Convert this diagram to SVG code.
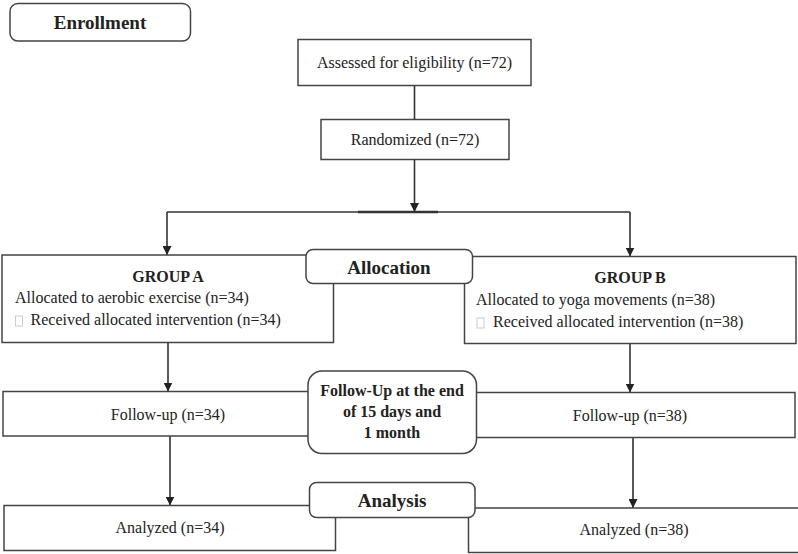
<svg xmlns="http://www.w3.org/2000/svg" width="798" height="554" viewBox="0 0 798 554">
<defs>
<style>
.box{fill:#fff;stroke:#444;stroke-width:1.5}
.hdr{fill:#fff;stroke:#444;stroke-width:1.5}
.t{font-family:"Liberation Serif","Times New Roman",serif;font-size:16px;fill:#222}
.c{text-anchor:middle}
.b{font-weight:bold}
.h{font-family:"Liberation Serif","Times New Roman",serif;font-size:19px;font-weight:bold;fill:#222;text-anchor:middle}
.ln{fill:none;stroke:#333;stroke-width:1.6}
.tofu{fill:#fff;stroke:#ccc;stroke-width:1}
</style>
<marker id="arr" viewBox="0 0 10 10" refX="10" refY="5" markerWidth="9" markerHeight="9" markerUnits="userSpaceOnUse" orient="auto">
<path d="M0,0 L10,5 L0,10 z" fill="#222"/>
</marker>
</defs>
<rect width="798" height="554" fill="#fff"/>

<g id="enrollment">
<rect class="hdr" x="10" y="3.5" width="180.5" height="37.5" rx="8"/>
<text class="h" x="100" y="29">Enrollment</text>
</g>

<g id="assessed">
<rect class="box" x="298" y="39.5" width="233" height="46"/>
<text class="t c" x="414.5" y="67.5">Assessed for eligibility (n=72)</text>
</g>

<g id="randomized">
<rect class="box" x="321" y="119.5" width="188" height="40"/>
<text class="t c" x="415" y="145">Randomized (n=72)</text>
</g>

<g id="connectors">
<path class="ln" d="M414.5,85.5 V119.5"/>
<path class="ln" d="M414.5,159.5 V212" marker-end="url(#arr)"/>
<path class="ln" d="M167,212 H630"/>
<path class="ln" d="M358,212 H438" style="stroke-width:2.4"/>
<path class="ln" d="M167,212 V255" marker-end="url(#arr)"/>
<path class="ln" d="M630,212 V256.5" marker-end="url(#arr)"/>
<path class="ln" d="M168,342.5 V391.5" marker-end="url(#arr)"/>
<path class="ln" d="M630,343.5 V392.5" marker-end="url(#arr)"/>
<path class="ln" d="M170,436 V505.5" marker-end="url(#arr)"/>
<path class="ln" d="M633,437.5 V508" marker-end="url(#arr)"/>
</g>

<g id="groupA">
<rect class="box" x="2" y="255" width="331.5" height="87.5"/>
<text class="t c b" x="168" y="282">GROUP A</text>
<text class="t" x="15" y="303">Allocated to aerobic exercise (n=34)</text>
<rect class="tofu" x="15.5" y="316" width="7" height="10"/>
<text class="t" x="30.5" y="324.5">Received allocated intervention (n=34)</text>
</g>

<g id="groupB">
<rect class="box" x="464.5" y="256.5" width="331.5" height="87"/>
<text class="t c b" x="630" y="283">GROUP B</text>
<text class="t" x="476" y="305">Allocated to yoga movements (n=38)</text>
<rect class="tofu" x="477" y="318" width="7" height="10"/>
<text class="t" x="493" y="326.5">Received allocated intervention (n=38)</text>
</g>

<g id="allocation">
<rect class="hdr" x="306" y="249.5" width="166.5" height="34" rx="7"/>
<text class="h" x="389" y="274">Allocation</text>
</g>

<g id="followupA">
<rect class="box" x="3" y="391.5" width="340" height="44.5"/>
<text class="t c" x="168" y="420">Follow-up (n=34)</text>
</g>

<g id="followupB">
<rect class="box" x="440" y="392.5" width="355" height="45"/>
<text class="t c" x="630" y="420.5">Follow-up (n=38)</text>
</g>

<g id="followupLabel">
<rect class="hdr" x="308" y="371" width="168.5" height="82.5" rx="14"/>
<text class="t c b" x="392" y="396">Follow-Up at the end</text>
<text class="t c b" x="392" y="417">of 15 days and</text>
<text class="t c b" x="392" y="438">1 month</text>
</g>

<g id="analyzedA">
<rect class="box" x="4" y="505.5" width="331.5" height="45"/>
<text class="t c" x="170" y="533">Analyzed (n=34)</text>
</g>

<g id="analyzedB">
<rect class="box" x="468.5" y="508" width="340" height="44.5"/>
<text class="t c" x="634" y="535">Analyzed (n=38)</text>
</g>

<g id="analysis">
<rect class="hdr" x="309.5" y="482.5" width="165.5" height="35" rx="7"/>
<text class="h" x="392" y="507">Analysis</text>
</g>
</svg>
